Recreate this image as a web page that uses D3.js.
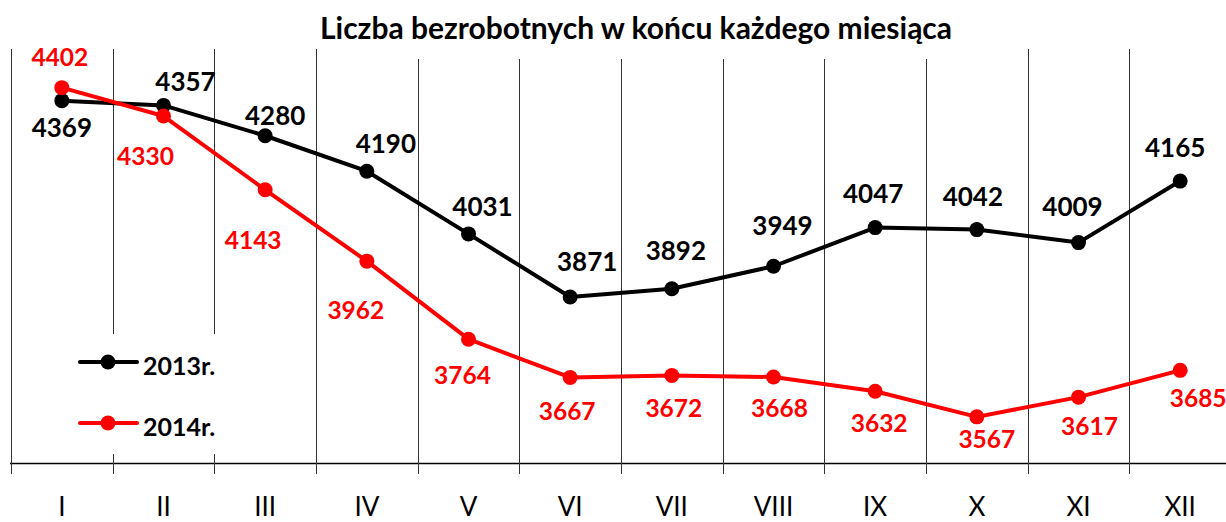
<!DOCTYPE html>
<html>
<head>
<meta charset="utf-8">
<script src="https://cdn.jsdelivr.net/npm/d3@7"></script>
<style>
  html, body { margin: 0; padding: 0; background: #fff; }
  svg { display: block; font-family: Lato, "Open Sans", sans-serif; }
</style>
</head>
<body>
<svg id="chart" width="1226" height="522"></svg>
<script>
// ---- data ----
const months = ["I", "II", "III", "IV", "V", "VI", "VII", "VIII", "IX", "X", "XI", "XII"];
const values2013 = [4369, 4357, 4280, 4190, 4031, 3871, 3892, 3949, 4047, 4042, 4009, 4165];
const values2014 = [4402, 4330, 4143, 3962, 3764, 3667, 3672, 3668, 3632, 3567, 3617, 3685];
const seriesNames = ["2013r.", "2014r."];
const title = "Liczba bezrobotnych w końcu każdego miesiąca";

// ---- layout (label offsets in px relative to the point) ----
const lab2013dx = [0, 22, 10, 19, 14, 17, 4, 9, -2, -4, -6, -5];
const lab2013dy = [27, -24, -20, -28, -27, -35, -38, -41, -34, -33, -36, -33];
const lab2014dx = [-2, -18, -12, -11, -6, -3, 2, 6, 4, 10, 11, 18];
const lab2014dy = [-30, 40, 50, 49, 36, 34, 33, 31, 32, 22, 29, 28];

const svg = d3.select("#chart");
const x = d3.scaleBand().domain(months).range([11, 1231]);
const y = d3.scaleLinear().domain([3450, 4500]).range([463, 49]);
const cx = m => x(m) + x.bandwidth() / 2;

// vertical gridlines at category boundaries
const bounds = months.map(m => x(m)).concat([x.range()[1]]);
svg.append("g").selectAll("line").data(bounds).join("line")
  .attr("x1", d => Math.round(d) + 0.5).attr("x2", d => Math.round(d) + 0.5)
  .attr("y1", y.range()[1]).attr("y2", y.range()[0])
  .attr("stroke", "#333").attr("stroke-width", 1);

// title (white background)
const tg = svg.append("g");
tg.append("rect").attr("x", 380).attr("y", 0).attr("width", 560).attr("height", 59).attr("fill", "#fff");
tg.append("text").attr("x", 636).attr("y", 39).attr("text-anchor", "middle")
  .attr("font-weight", "bold").attr("font-size", 30).attr("fill", "#000").text(title);

// legend background
svg.append("rect").attr("x", 60).attr("y", 334).attr("width", 180).attr("height", 120).attr("fill", "#fff");

// x axis
const axis = svg.append("g").attr("transform", `translate(0,${y.range()[0]})`);
axis.append("line").attr("x1", 10).attr("x2", 1226).attr("y1", 0.5).attr("y2", 0.5)
  .attr("stroke", "#000").attr("stroke-width", 1.5);
axis.selectAll("line.tick").data(bounds).join("line").attr("class", "tick")
  .attr("x1", d => Math.round(d) + 0.5).attr("x2", d => Math.round(d) + 0.5)
  .attr("y1", -9).attr("y2", 11).attr("stroke", "#333").attr("stroke-width", 1);
axis.selectAll("text").data(months).join("text")
  .attr("x", d => cx(d)).attr("y", 53).attr("text-anchor", "middle")
  .attr("font-size", 26).attr("fill", "#000").text(d => d);

// series
const series = [
  { name: seriesNames[0], vals: values2013, color: "#000000", dx: lab2013dx, dy: lab2013dy, fs: 26 },
  { name: seriesNames[1], vals: values2014, color: "#ff0000", dx: lab2014dx, dy: lab2014dy, fs: 24.5 }
];
const line = d3.line().x((d, i) => cx(months[i])).y(d => y(d));

series.forEach(s => {
  const g = svg.append("g");
  g.append("path").datum(s.vals).attr("d", line).attr("fill", "none")
    .attr("stroke", s.color).attr("stroke-width", 4).attr("stroke-linejoin", "round");
  g.selectAll("circle").data(s.vals).join("circle")
    .attr("cx", (d, i) => cx(months[i])).attr("cy", d => y(d)).attr("r", 7.5).attr("fill", s.color);
});
series.forEach(s => {
  svg.append("g").selectAll("text").data(s.vals).join("text")
    .attr("x", (d, i) => cx(months[i]) + s.dx[i])
    .attr("y", (d, i) => y(d) + s.dy[i])
    .attr("dy", "0.36em").attr("text-anchor", "middle")
    .attr("font-weight", "bold").attr("font-size", s.fs).attr("fill", s.color)
    .text(d => d);
});

// legend
const lg = svg.append("g");
const legY = [362, 423];
series.forEach((s, i) => {
  lg.append("line").attr("x1", 80).attr("x2", 137).attr("y1", legY[i]).attr("y2", legY[i])
    .attr("stroke", s.color).attr("stroke-width", 4).attr("stroke-linecap", "round");
  lg.append("circle").attr("cx", 108).attr("cy", legY[i]).attr("r", 7.5).attr("fill", s.color);
  lg.append("text").attr("x", 143).attr("y", legY[i] + 4).attr("dy", "0.36em")
    .attr("font-weight", "bold").attr("font-size", 25).attr("fill", "#000").text(s.name);
});
</script>
</body>
</html>
